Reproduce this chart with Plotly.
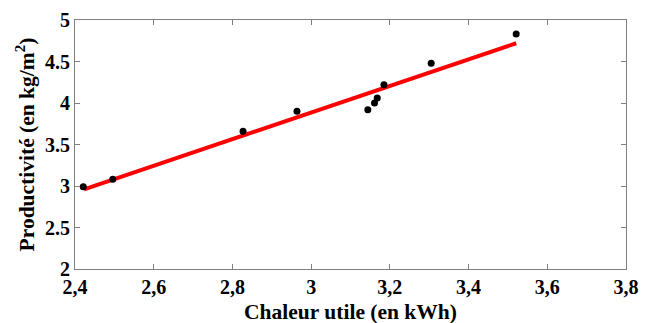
import plotly.graph_objects as go

x_vals = [2.421, 2.496, 2.827, 2.964, 3.144, 3.161, 3.168, 3.185, 3.305, 3.521]
y_vals = [2.99, 3.08, 3.66, 3.90, 3.92, 4.00, 4.06, 4.22, 4.48, 4.83]
fit_x = [2.423, 3.521]
fit_y = [2.96, 4.72]
x_ticks = [2.4, 2.6, 2.8, 3.0, 3.2, 3.4, 3.6, 3.8]
x_labels = ["2,4", "2,6", "2,8", "3", "3,2", "3,4", "3,6", "3,8"]
y_ticks = [2, 2.5, 3, 3.5, 4, 4.5, 5]
y_labels = ["2", "2.5", "3", "3.5", "4", "4.5", "5"]

fig = go.Figure()
fig.add_trace(go.Scatter(x=fit_x, y=fit_y, mode="lines",
                         line=dict(color="#ff0000", width=4), showlegend=False))
fig.add_trace(go.Scatter(x=x_vals, y=y_vals, mode="markers",
                         marker=dict(color="black", size=7), showlegend=False))

fam = "Times New Roman, Liberation Serif, serif"
font = dict(family=fam, size=19, color="black", weight="bold")
fig.update_layout(
    width=651, height=323,
    margin=dict(l=67, r=33, t=12, b=62, autoexpand=False),
    paper_bgcolor="white", plot_bgcolor="white",
    font=font,
    xaxis=dict(range=[2.4, 3.8], tickvals=x_ticks, ticktext=x_labels, automargin=False,
               tickfont=dict(family=fam, size=20, weight="bold"),
               ticks="inside", ticklen=5, tickcolor="#808080", showline=True, linecolor="#808080",
               linewidth=1, mirror="ticks", showgrid=False, zeroline=False,
               title=dict(text="Chaleur utile (en kWh)", font=dict(family=fam, size=21.5, weight="bold"), standoff=6)),
    yaxis=dict(range=[2, 5], tickvals=y_ticks, ticktext=y_labels, automargin=False,
               tickfont=dict(family=fam, size=20, weight="bold"),
               ticks="inside", ticklen=5, tickcolor="#808080", showline=True, linecolor="#808080",
               linewidth=1, mirror="ticks", showgrid=False, zeroline=False,
               title=dict(text="Productivité (en kg/m<sup>2</sup>)", font=dict(family=fam, size=21.5, weight="bold"), standoff=4)),
)
fig.write_html("out.html")
